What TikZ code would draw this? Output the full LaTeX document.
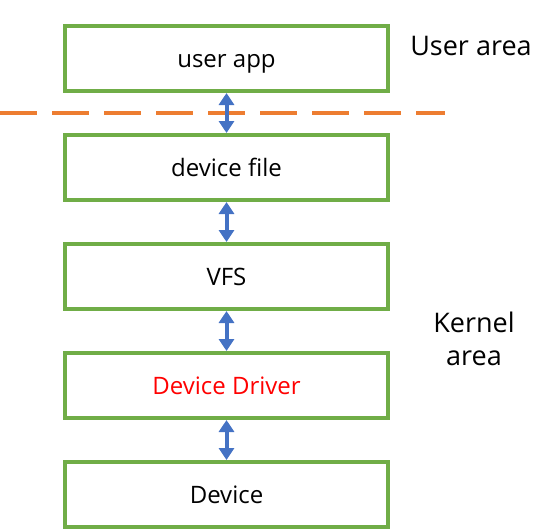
\documentclass[tikz,border=0pt]{standalone}
\usepackage{fontspec}
\setmainfont{Open Sans}
\usetikzlibrary{positioning,arrows.meta}
\definecolor{boxgreen}{RGB}{112,173,71}
\definecolor{lineorange}{RGB}{237,125,49}
\definecolor{arrowblue}{RGB}{68,114,196}
\definecolor{drvred}{RGB}{255,0,0}

\begin{document}
\begin{tikzpicture}[x=1pt,y=1pt,node distance=40pt,
  layer/.style = {shape=rectangle, draw=boxgreen, line width=4pt,
    minimum width=323pt, minimum height=65pt, inner sep=0pt,
    text height=20pt, text depth=3pt,
    font=\fontsize{24}{28}\selectfont},
  link/.style = {draw=arrowblue, line width=4pt,
    {Triangle[width=15pt,length=12pt]}-{Triangle[width=15pt,length=12pt]}},
  area/.style = {align=center, font=\fontsize{27}{33}\selectfont}]
  \useasboundingbox (0,0) rectangle (552,-530);
  \node[layer] (app) at (226.5,-58.5) {user app};
  \node[layer, below=of app] (file) {device file};
  \node[layer, below=of file] (vfs) {VFS};
  \node[layer, below=of vfs, text=drvred] (drv) {Device Driver};
  \node[layer, below=of drv] (dev) {Device};
  \draw[draw=lineorange, line width=4pt, dash pattern=on 37pt off 15pt]
    (0,-113) -- (445,-113);
  \draw[link] (app) -- (file);
  \draw[link] (file) -- (vfs);
  \draw[link] (vfs) -- (drv);
  \draw[link] (drv) -- (dev);
  \node[area] (user) at (471,-46) {User area};
  \node[area] (kernel) at (474,-339) {Kernel\\area};
\end{tikzpicture}
\end{document}
